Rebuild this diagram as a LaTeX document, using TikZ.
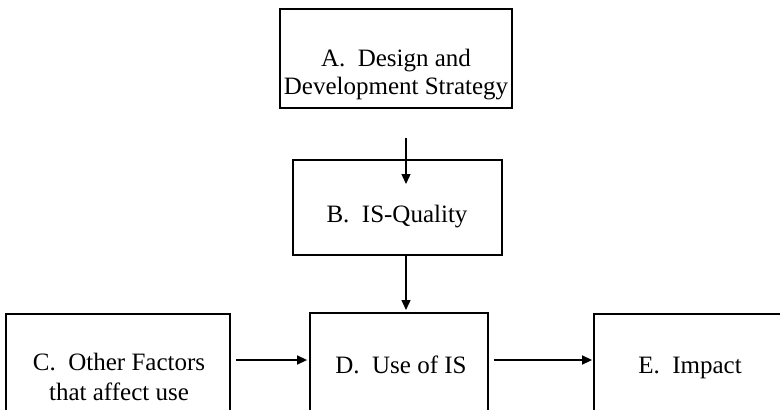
\documentclass[tikz,border=0pt]{standalone}
\usepackage{fontspec}
\setmainfont{Liberation Serif}
\usetikzlibrary{arrows.meta}
\begin{document}
\begin{tikzpicture}[x=1pt, y=-1pt,
  box/.style={draw=black, line width=1.8pt, inner sep=0pt},
  txt/.style={inner sep=0pt, align=center, anchor=base, text=black,
    font=\fontsize{25}{28}\selectfont},
  link/.style={line width=1.4pt, -{Triangle[length=10pt,width=9pt]}}]
  \useasboundingbox (0,0) rectangle (780,410);
  \clip (0,0) rectangle (780,410);
  % boxes (the bottom row runs off the lower edge)
  \node[box, minimum width=232pt, minimum height=99pt] (A) at (396,58.5) {};
  \node[box, minimum width=209pt, minimum height=95pt] (B) at (397.5,207.5) {};
  \node[box, minimum width=224pt, minimum height=126pt] (C) at (118,377) {};
  \node[box, minimum width=178pt, minimum height=127pt] (D) at (399,376.5) {};
  \node[box, minimum width=194pt, minimum height=126pt] (E) at (691,377) {};
  % box texts, placed by the baseline of their last line
  \node[txt] (At) at (396,94) {A.~~Design and\\Development Strategy};
  \node[txt] (Bt) at (397,222) {B.~~IS-Quality};
  \node[txt, font=\fontsize{25}{30}\selectfont] (Ct) at (119,400) {C.~~Other Factors\\that affect use};
  \node[txt] (Dt) at (401,373) {D.~~Use of IS};
  \node[txt] (Et) at (690,373) {E.~~Impact};
  % connector ends
  \coordinate (ABstart) at (406,138);
  \coordinate (ABend) at (406,184);
  \coordinate (BDend) at (406,310);
  \draw[link] (ABstart) -- (ABend);
  \draw[link] (B.south -| BDend) -- (BDend);
  \draw[link] ([xshift=5pt]C.east |- 0,360) -- ([xshift=-2pt]D.west |- 0,360);
  \draw[link] ([xshift=5pt]D.east |- 0,360) -- ([xshift=-1pt]E.west |- 0,360);
\end{tikzpicture}
\end{document}
